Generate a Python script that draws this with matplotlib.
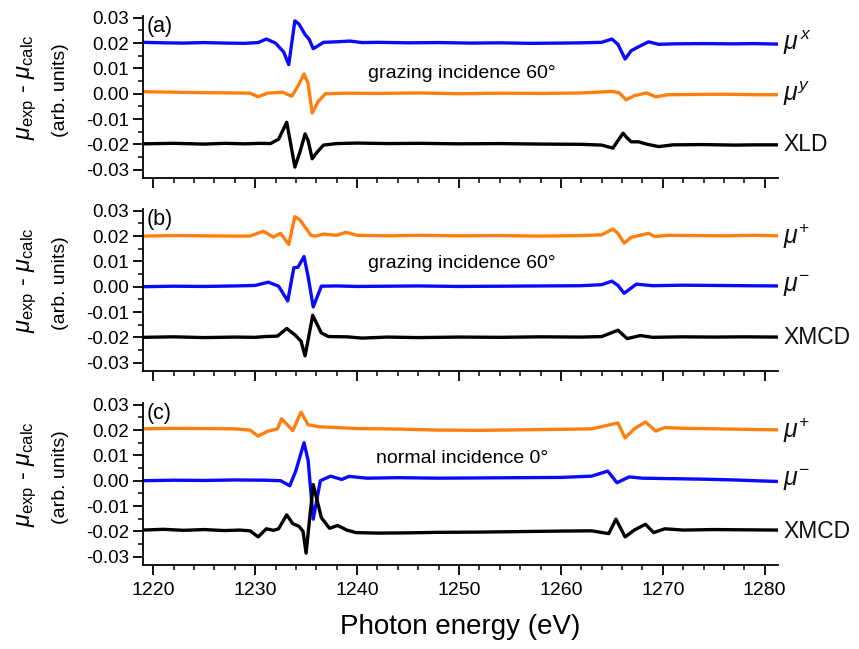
import matplotlib
matplotlib.use("Agg")
import matplotlib.pyplot as plt
from matplotlib.ticker import MultipleLocator

plt.rcParams['font.family'] = ['Liberation Sans', 'DejaVu Sans']
plt.rcParams['mathtext.fontset'] = 'custom'
plt.rcParams['mathtext.rm'] = 'Liberation Sans'
plt.rcParams['mathtext.it'] = 'Liberation Sans:italic'
plt.rcParams['mathtext.bf'] = 'Liberation Sans:bold'

BLUE = '#0a0aff'
ORANGE = '#ff7f0e'
BLACK = '#000000'

# ---------------- Panel (a): grazing incidence 60 deg, linear polarisation
a_mux_E = [1219.0, 1221, 1223, 1225, 1227, 1229, 1230.3, 1231.1, 1232.0, 1232.8, 1233.3, 1233.9,
           1234.3, 1234.9, 1235.3, 1235.7, 1236.2, 1236.7, 1238, 1239.3, 1240.5, 1242, 1245, 1248,
           1251, 1254, 1257, 1260, 1262, 1264, 1265.0, 1265.6, 1266.3, 1266.9, 1267.6, 1268.6,
           1269.6, 1271, 1274, 1277, 1279, 1281.3]
a_mux_V = [0.0203, 0.0201, 0.0200, 0.0202, 0.0200, 0.0199, 0.0202, 0.0216, 0.0200, 0.0165, 0.0115, 0.0288,
           0.0275, 0.0234, 0.0215, 0.0178, 0.0190, 0.0203, 0.0205, 0.0208, 0.0202, 0.0203, 0.0201, 0.0202,
           0.0200, 0.0201, 0.0199, 0.0200, 0.0201, 0.0203, 0.0216, 0.0195, 0.0137, 0.0170, 0.0185, 0.0205,
           0.0195, 0.0197, 0.0198, 0.0197, 0.0198, 0.0196]

a_muy_E = [1219, 1222, 1225, 1228, 1229.5, 1230.3, 1231.2, 1232.7, 1233.6, 1234.2, 1234.8, 1235.2,
           1235.6, 1236.2, 1236.9, 1239, 1242, 1246, 1250, 1254, 1258, 1262, 1265.0, 1265.7,
           1266.4, 1267.2, 1268.4, 1269.3, 1270.5, 1273, 1276, 1279, 1281.3]
a_muy_V = [0.0008, 0.0006, 0.0004, 0.0003, 0.0002, -0.0012, 0.0002, 0.0006, -0.0010, 0.0030, 0.0078, 0.0040,
           -0.0076, -0.0030, 0.0000, 0.0002, 0.0001, 0.0003, 0.0000, 0.0002, 0.0001, 0.0003, 0.0009, 0.0004,
           -0.0024, -0.0008, 0.0003, -0.0012, -0.0004, -0.0003, -0.0002, -0.0004, -0.0004]

a_xld_E = [1219, 1222, 1225, 1227, 1229, 1230.5, 1231.5, 1232.3, 1233.1, 1233.5, 1233.9, 1234.4,
           1234.9, 1235.2, 1235.6, 1236.0, 1236.7, 1238, 1240, 1243, 1246, 1250, 1254, 1258,
           1262, 1264, 1265.1, 1265.6, 1266.1, 1266.5, 1266.9, 1267.6, 1268.5, 1269.6, 1271,
           1274, 1277, 1279, 1281.3]
a_xld_V = [-0.0198, -0.0196, -0.0199, -0.0196, -0.0198, -0.0196, -0.0197, -0.0180, -0.0113, -0.0200, -0.0290, -0.0230,
           -0.0159, -0.0185, -0.0257, -0.0235, -0.0203, -0.0197, -0.0195, -0.0197, -0.0196, -0.0198, -0.0197, -0.0199,
           -0.0200, -0.0203, -0.0215, -0.0185, -0.0156, -0.0175, -0.0190, -0.0190, -0.0200, -0.0209, -0.0202,
           -0.0201, -0.0203, -0.0202, -0.0202]

# ---------------- Panel (b): grazing incidence 60 deg, circular polarisation
b_mup_E = [1219, 1222, 1225, 1228, 1229.5, 1230.8, 1231.8, 1232.5, 1233.3, 1233.9, 1234.4, 1235.0,
           1235.5, 1236.0, 1236.7, 1238.0, 1238.9, 1240, 1243, 1246, 1250, 1254, 1258, 1262,
           1264, 1265.1, 1265.6, 1266.2, 1266.9, 1268.6, 1269.2, 1270.5, 1273, 1276, 1279, 1281.3]
b_mup_V = [0.0200, 0.0202, 0.0201, 0.0200, 0.0200, 0.0219, 0.0196, 0.0211, 0.0167, 0.0277, 0.0264, 0.0230,
           0.0202, 0.0200, 0.0208, 0.0203, 0.0215, 0.0203, 0.0201, 0.0203, 0.0201, 0.0202, 0.0200, 0.0202,
           0.0205, 0.0228, 0.0210, 0.0172, 0.0195, 0.0211, 0.0198, 0.0203, 0.0202, 0.0201, 0.0203, 0.0201]

b_mum_E = [1219, 1222, 1225, 1228, 1230, 1231.3, 1232.3, 1233.2, 1233.8, 1234.2, 1234.8, 1235.2,
           1235.7, 1236.5, 1238, 1240, 1243, 1246, 1250, 1254, 1258, 1262, 1264, 1265.0,
           1265.6, 1266.2, 1267.4, 1269, 1272, 1275, 1278, 1281.3]
b_mum_V = [0.0000, 0.0002, 0.0001, 0.0003, 0.0005, 0.0018, 0.0002, -0.0056, 0.0075, 0.0077, 0.0119, 0.0040,
           -0.0080, 0.0002, 0.0003, 0.0001, 0.0002, 0.0003, 0.0001, 0.0002, 0.0003, 0.0004, 0.0008, 0.0022,
           0.0005, -0.0026, 0.0010, 0.0004, 0.0006, 0.0005, 0.0004, 0.0003]

b_xmcd_E = [1219, 1222, 1225, 1228, 1230, 1231, 1232.2, 1233.1, 1233.9, 1234.5, 1234.9, 1235.2,
            1235.65, 1236.5, 1237.2, 1239, 1240.5, 1243, 1246, 1250, 1254, 1258, 1262, 1264,
            1265.6, 1266.5, 1267.8, 1269, 1272, 1275, 1278, 1281.3]
b_xmcd_V = [-0.0200, -0.0198, -0.0201, -0.0199, -0.0200, -0.0197, -0.0195, -0.0165, -0.0190, -0.0215, -0.0273, -0.0210,
            -0.0113, -0.0183, -0.0197, -0.0198, -0.0203, -0.0199, -0.0201, -0.0199, -0.0200, -0.0198, -0.0199, -0.0197,
            -0.0172, -0.0205, -0.0193, -0.0200, -0.0198, -0.0199, -0.0198, -0.0199]

# ---------------- Panel (c): normal incidence 0 deg, circular polarisation
c_mup_E = [1219, 1222, 1225, 1228, 1229.5, 1230.3, 1231.2, 1232.2, 1232.6, 1233.7, 1234.5, 1235.2,
           1236.3, 1238, 1240, 1244, 1248, 1252, 1256, 1260, 1263, 1265.6, 1266.3, 1267.2,
           1268.3, 1269.3, 1270.2, 1272, 1275, 1278, 1281.3]
c_mup_V = [0.0205, 0.0207, 0.0206, 0.0205, 0.0200, 0.0176, 0.0195, 0.0205, 0.0245, 0.0198, 0.0271, 0.0221,
           0.0213, 0.0210, 0.0206, 0.0204, 0.0200, 0.0199, 0.0201, 0.0203, 0.0205, 0.0228, 0.0169, 0.0205,
           0.0232, 0.0196, 0.0210, 0.0207, 0.0205, 0.0203, 0.0201]

c_mum_E = [1219, 1222, 1225, 1228, 1231, 1232.5, 1233.4, 1234.0, 1234.8, 1235.2, 1235.7, 1236.4,
           1237.4, 1238.5, 1239.2, 1241, 1244, 1248, 1252, 1256, 1260, 1263, 1264.6, 1265.5,
           1266.7, 1268, 1271, 1274, 1277, 1279, 1281.3]
c_mum_V = [0.0000, 0.0002, 0.0001, 0.0003, 0.0002, 0.0000, -0.0020, 0.0040, 0.0150, 0.0080, -0.0152, 0.0000,
           0.0018, 0.0005, 0.0017, 0.0010, 0.0012, 0.0010, 0.0011, 0.0012, 0.0013, 0.0018, 0.0038, -0.0008,
           0.0015, 0.0010, 0.0008, 0.0006, 0.0003, 0.0000, -0.0003]

c_xmcd_E = [1219, 1221, 1223, 1225, 1227, 1228.5, 1229.5, 1230.3, 1231.1, 1231.8, 1232.3, 1233.1,
            1233.7, 1234.3, 1234.7, 1235.0, 1235.35, 1235.7, 1236.5, 1237.3, 1238.1, 1239.0, 1239.9,
            1242, 1245, 1248, 1252, 1256, 1260, 1263, 1264.7, 1265.4, 1266.3, 1267.2, 1268.3,
            1269.1, 1270.2, 1272, 1275, 1278, 1281.3]
c_xmcd_V = [-0.0195, -0.0192, -0.0196, -0.0193, -0.0197, -0.0195, -0.0198, -0.0222, -0.0190, -0.0196, -0.0190, -0.0135,
            -0.0170, -0.0180, -0.0200, -0.0286, -0.0150, -0.0015, -0.0146, -0.0188, -0.0177, -0.0195, -0.0205,
            -0.0207, -0.0206, -0.0204, -0.0203, -0.0201, -0.0199, -0.0198, -0.0209, -0.0152, -0.0222, -0.0195, -0.0172,
            -0.0205, -0.0190, -0.0195, -0.0193, -0.0194, -0.0195]

panel_tags = ['(a)', '(b)', '(c)']
panel_notes = ['grazing incidence 60°', 'grazing incidence 60°', 'normal incidence 0°']
note_y = [0.0080, 0.0093, 0.0087]
y_ticks = [-0.03, -0.02, -0.01, 0.00, 0.01, 0.02, 0.03]
y_ticklabels = ['-0.03', '-0.02', '-0.01', '0.00', '0.01', '0.02', '0.03']
x_ticks = [1220, 1230, 1240, 1250, 1260, 1270, 1280]

panels = [
    [(a_mux_E, a_mux_V, BLUE, r'$\mu^{\,x}$', 0.020),
     (a_muy_E, a_muy_V, ORANGE, r'$\mu^{y}$', 0.000),
     (a_xld_E, a_xld_V, BLACK, 'XLD', -0.020)],
    [(b_mup_E, b_mup_V, ORANGE, r'$\mu^{+}$', 0.020),
     (b_mum_E, b_mum_V, BLUE, r'$\mu^{-}$', 0.000),
     (b_xmcd_E, b_xmcd_V, BLACK, 'XMCD', -0.020)],
    [(c_mup_E, c_mup_V, ORANGE, r'$\mu^{+}$', 0.020),
     (c_mum_E, c_mum_V, BLUE, r'$\mu^{-}$', 0.000),
     (c_xmcd_E, c_xmcd_V, BLACK, 'XMCD', -0.020)],
]

fig = plt.figure(figsize=(8.59, 6.49), dpi=100)
W, H = 859.0, 649.0
left_px, right_px = 143, 778
tops_px = [16, 209, 403]
h_px = 162

for i, (top, traces) in enumerate(zip(tops_px, panels)):
    ax = fig.add_axes([left_px / W, 1 - (top + h_px) / H, (right_px - left_px) / W, h_px / H])
    for E, V, col, lab, ylab in traces:
        ax.plot(E, V, color=col, lw=2.4, solid_joinstyle='round', solid_capstyle='round')
        fs = 16.5 if lab[0] != '$' else 18
        ax.text(1.008, ylab, lab, transform=ax.get_yaxis_transform(), ha='left', va='center',
                fontsize=fs, color='#111111')
    ax.set_xlim(1219.0, 1281.3)
    ax.set_ylim(-0.0333, 0.0307)
    ax.set_yticks(y_ticks)
    ax.set_yticklabels(y_ticklabels)
    ax.set_xticks(x_ticks)
    ax.xaxis.set_minor_locator(MultipleLocator(2))
    ax.yaxis.set_minor_locator(MultipleLocator(0.005))
    for s in ['top', 'right']:
        ax.spines[s].set_visible(False)
    for s in ['left', 'bottom']:
        ax.spines[s].set_linewidth(1.3)
    ax.tick_params(which='major', direction='out', length=7, width=1.3, labelsize=13.5, pad=3)
    ax.tick_params(which='minor', direction='out', length=3.5, width=1.1)
    ax.tick_params(axis='x', labelsize=14, pad=5)
    if i < 2:
        ax.tick_params(axis='x', labelbottom=False)
    ax.text(0.006, 0.998, panel_tags[i], transform=ax.transAxes, ha='left', va='top', fontsize=15.5)
    ax.text(1250.3, note_y[i], panel_notes[i], ha='center', va='center', fontsize=14)
    ax.text(-0.182, 0.56, r'$\mu_{\rm exp}$ - $\mu_{\rm calc}$', transform=ax.transAxes,
            rotation=90, ha='center', va='center', fontsize=17)
    ax.text(-0.1295, 0.545, '(arb. units)', transform=ax.transAxes,
            rotation=90, ha='center', va='center', fontsize=14)
    if i == 2:
        ax.set_xlabel('Photon energy (eV)', fontsize=20, labelpad=11)

fig.savefig('out.png', dpi=100)
